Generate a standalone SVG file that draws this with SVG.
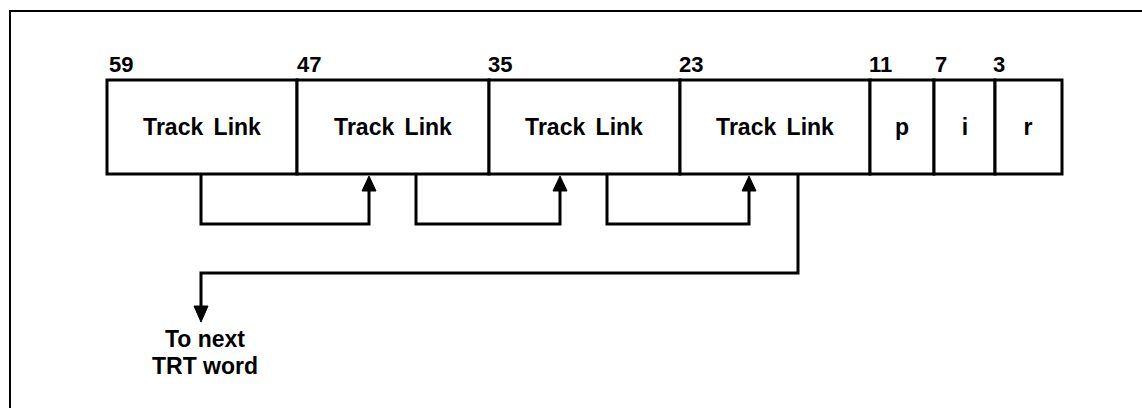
<svg xmlns="http://www.w3.org/2000/svg" width="1142" height="408" viewBox="0 0 1142 408">
<style>
.frame{fill:none;stroke:#000;stroke-width:2}
.box{fill:#fff;stroke:#000;stroke-width:3}
.conn{fill:none;stroke:#000;stroke-width:3;stroke-linejoin:miter}
.head{fill:#000;stroke:#000;stroke-width:1}
.lbl{font-family:"Liberation Sans",Arial,sans-serif;font-weight:bold;font-size:23px;fill:#000}
.num{font-family:"Liberation Sans",Arial,sans-serif;font-weight:bold;font-size:22px;fill:#000}
</style>
<rect width="1142" height="408" fill="#fff"/>
<path class="frame" d="M10,408 L10,11 L1142,11"/>
<g id="bit-labels">
<text class="num" x="109" y="72">59</text>
<text class="num" x="297" y="72">47</text>
<text class="num" x="488" y="72">35</text>
<text class="num" x="679" y="72">23</text>
<text class="num" x="869" y="72">11</text>
<text class="num" x="935" y="72">7</text>
<text class="num" x="993" y="72">3</text>
</g>
<g id="field1"><rect class="box" x="107" y="80" width="190" height="94"/><text class="lbl" x="202" y="135" text-anchor="middle" word-spacing="4">Track Link</text></g>
<g id="field2"><rect class="box" x="297" y="80" width="192" height="94"/><text class="lbl" x="393" y="135" text-anchor="middle" word-spacing="4">Track Link</text></g>
<g id="field3"><rect class="box" x="489" y="80" width="191" height="94"/><text class="lbl" x="584" y="135" text-anchor="middle" word-spacing="4">Track Link</text></g>
<g id="field4"><rect class="box" x="680" y="80" width="190" height="94"/><text class="lbl" x="775" y="135" text-anchor="middle" word-spacing="4">Track Link</text></g>
<g id="field-p"><rect class="box" x="870" y="80" width="64" height="94"/><text class="lbl" x="902" y="135" text-anchor="middle">p</text></g>
<g id="field-i"><rect class="box" x="934" y="80" width="61" height="94"/><text class="lbl" x="965" y="135" text-anchor="middle">i</text></g>
<g id="field-r"><rect class="box" x="995" y="80" width="67" height="94"/><text class="lbl" x="1028" y="135" text-anchor="middle">r</text></g>
<g id="connectors">
<path class="conn" d="M201,175 L201,224 L369,224 L369,188"/>
<polygon class="head" points="369,176 362,191 376,191"/>
<path class="conn" d="M416,175 L416,224 L560,224 L560,188"/>
<polygon class="head" points="560,176 553,191 567,191"/>
<path class="conn" d="M607,175 L607,224 L749,224 L749,188"/>
<polygon class="head" points="749,176 742,191 756,191"/>
<path class="conn" d="M798,175 L798,273 L201,273 L201,308"/>
<polygon class="head" points="201,322 194,306 208,306"/>
</g>
<g id="dest">
<text class="lbl" x="205" y="347" text-anchor="middle">To next</text>
<text class="lbl" x="205" y="374" text-anchor="middle">TRT word</text>
</g>
</svg>
